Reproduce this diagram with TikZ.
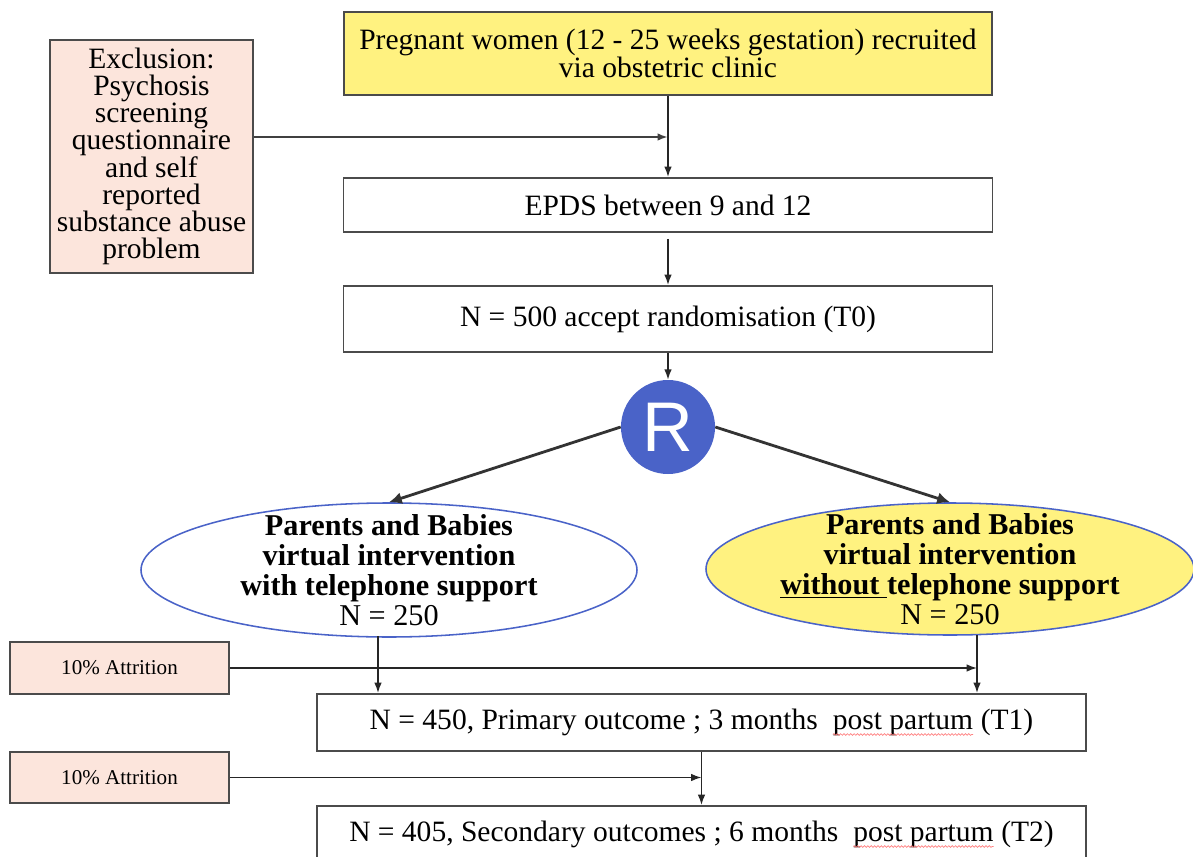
\documentclass[tikz,border=0pt]{standalone}
\usepackage{fontspec}
\setmainfont{Liberation Serif}
\newfontfamily\rfont{Liberation Sans}
\usetikzlibrary{positioning,shapes.geometric,arrows.meta,decorations.pathmorphing}
\definecolor{boxyellow}{RGB}{255,242,128}
\definecolor{boxpink}{RGB}{252,229,220}
\definecolor{rblue}{RGB}{74,99,200}
\definecolor{edgegray}{RGB}{75,75,75}
\newcommand\spellwave[1]{\tikz[x=1cm,y=1cm,baseline=(w.base)]{\node[shape=rectangle,draw=none,fill=none,inner sep=0pt,outer sep=0pt,minimum width=0pt,minimum height=0pt] (w) {#1}; \draw[red!50,line width=0.5pt,decorate,decoration={snake,amplitude=0.6pt,segment length=2.4pt}] ([yshift=-3.5pt]w.base west) -- ([yshift=-3.5pt]w.base east);}}

\begin{document}
\begin{tikzpicture}[x=0.25mm,y=-0.25mm,
	box/.style={draw=edgegray,line width=1.4pt,inner sep=2pt,align=center,font=\fontsize{21}{20}\selectfont},
	armtext/.style={align=center,inner sep=0pt,font=\fontsize{21.5}{21.5}\selectfont},
	arr/.style={draw=black!85,line width=1.1pt,-{Latex[length=2.6mm,width=1.9mm]}},
	bigarr/.style={draw=black!80,line width=2pt,-{Latex[length=3.2mm,width=3mm]}}]
	\useasboundingbox (0,0) rectangle (1193,857);

	\node[box,fill=boxyellow,minimum width=162mm,minimum height=20.75mm] (recruit) at (668,53.5) {Pregnant women (12 - 25 weeks gestation) recruited\\via obstetric clinic};
	\node[box,fill=boxpink,minimum width=50.75mm,minimum height=58.25mm,font=\fontsize{21}{19.2}\selectfont] (exclusion) at (151.5,156.5) {Exclusion:\\Psychosis\\screening\\questionnaire\\and self\\reported\\substance abuse\\problem};
	\node[box,minimum width=162.25mm,minimum height=13.5mm] (epds) at (668,205) {EPDS between 9 and 12};
	\node[box,minimum width=162.25mm,minimum height=16.5mm] (accept) at (668,319) {N = 500 accept randomisation (T0)};
	\node[circle,fill=rblue,minimum size=23.5mm,inner sep=0pt,text=white,font=\rfont\fontsize{50}{50}\selectfont] (rand) at (668,427) {R};

	\node[ellipse,draw=rblue,line width=1.1pt,minimum width=124mm,minimum height=33.5mm] (withsupport) at (389,570) {};
	\node[armtext] (withtext) at (withsupport) {\textbf{Parents and Babies}\\\textbf{virtual intervention}\\\textbf{with telephone support}\\N = 250};
	\node[ellipse,draw=rblue,fill=boxyellow,line width=1.1pt,minimum width=122mm,minimum height=33mm] (nosupport) at (950,569) {};
	\node[armtext] (notext) at (nosupport) {\textbf{Parents and Babies}\\\textbf{virtual intervention}\\\textbf{\underline{without\ }telephone support}\\N = 250};

	\node[box,fill=boxpink,minimum width=54.75mm,minimum height=13mm,font=\fontsize{15}{15}\selectfont] (attrition1) at (119.5,668) {10\% Attrition};
	\node[box,minimum width=192.25mm,minimum height=14.25mm] (outcome1) at (701.5,722.5) {N = 450, Primary outcome ; 3 months~ \spellwave{post partum} (T1)};
	\node[box,fill=boxpink,minimum width=54.75mm,minimum height=12.75mm,font=\fontsize{15}{15}\selectfont] (attrition2) at (119.5,777.5) {10\% Attrition};
	\node[box,minimum width=192.25mm,minimum height=14.25mm] (outcome2) at (701.5,834.5) {N = 405, Secondary outcomes ; 6 months~ \spellwave{post partum} (T2)};

	\coordinate (exclhit) at (668,137);
	\coordinate (leftdrop) at (378,636);
	\coordinate (rightdrop) at (977,635);

	\draw[arr,line width=1.5pt,draw=black!75] (exclusion.east |- exclhit) -- (exclhit);
	\draw[arr] (recruit.south) -- (epds.north);
	\draw[arr,shorten <=1.5mm] (epds.south) -- (accept.north);
	\draw[arr] (accept.south) -- (rand.north);
	\draw[bigarr] (rand.west) -- (withsupport.north);
	\draw[bigarr] (rand.east) -- (nosupport.north);
	\draw[arr] (leftdrop) -- (leftdrop |- outcome1.north);
	\draw[arr] (rightdrop) -- (rightdrop |- outcome1.north);
	\draw[arr] (attrition1.east) -- (attrition1.east -| rightdrop);
	\draw[arr] (outcome1.south) -- (outcome2.north);
	\draw[arr] (attrition2.east) -- (attrition2.east -| outcome1.south);
\end{tikzpicture}
\end{document}
